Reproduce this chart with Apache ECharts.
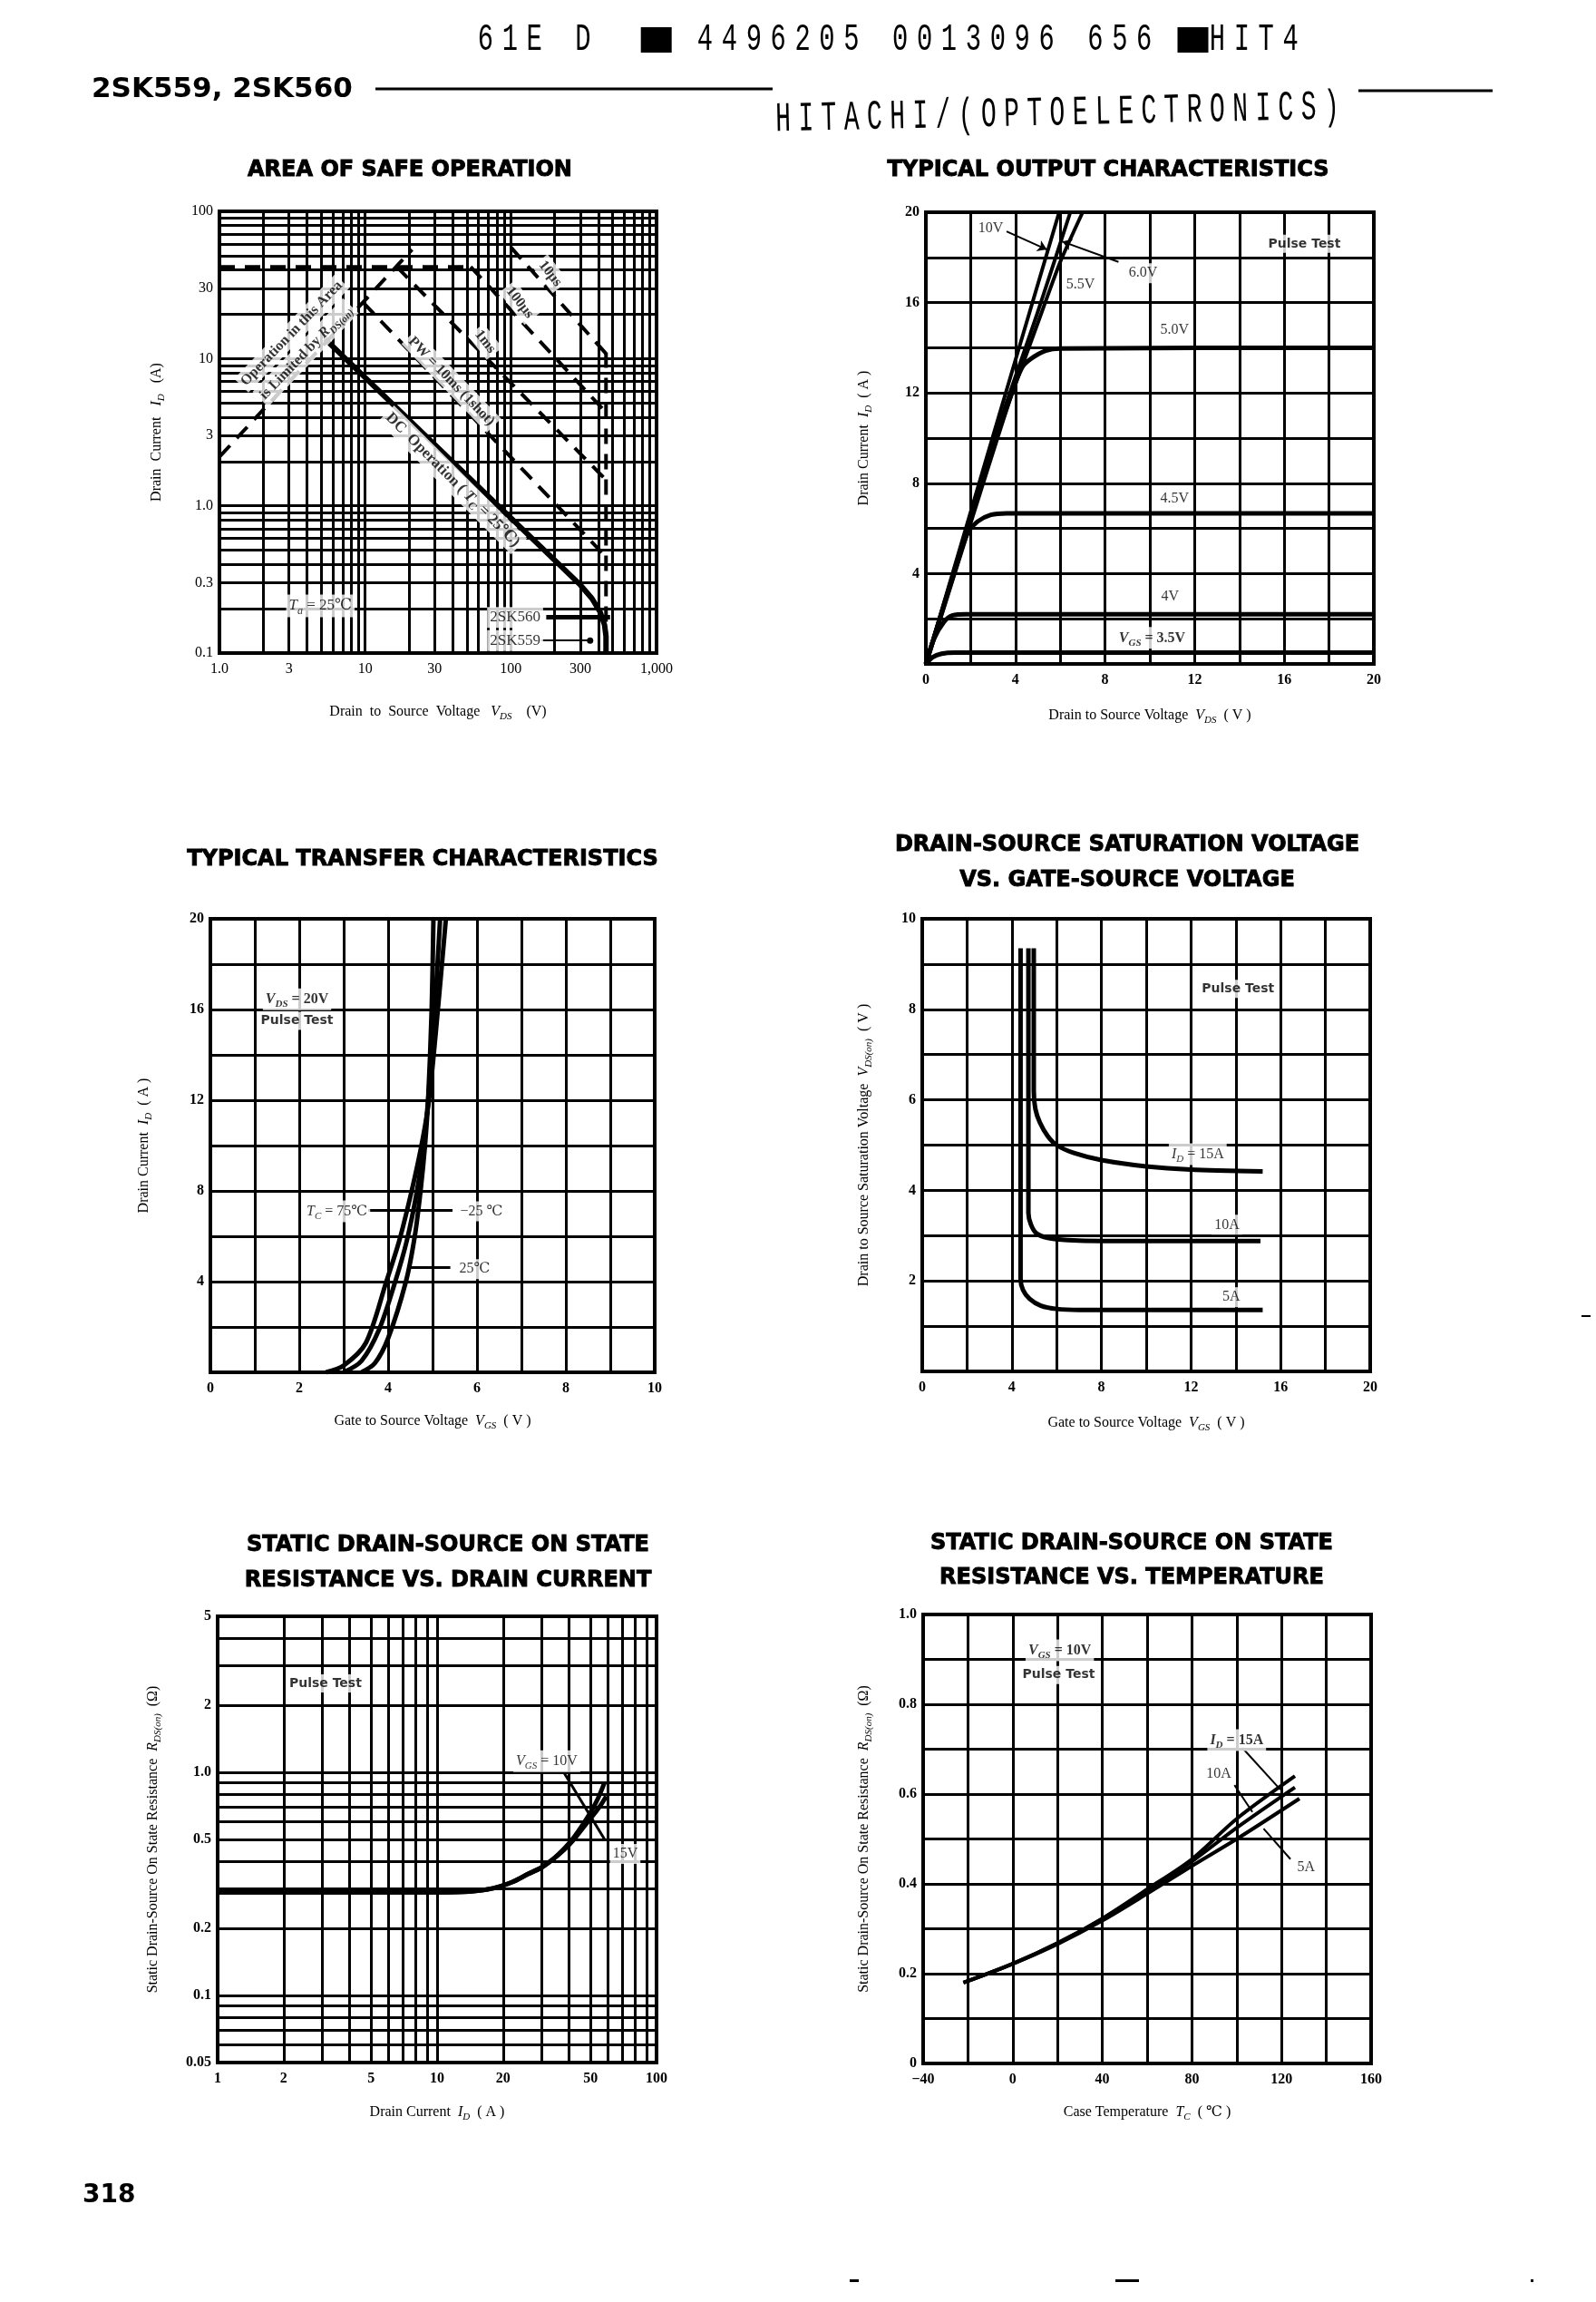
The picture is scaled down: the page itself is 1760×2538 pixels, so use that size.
<!DOCTYPE html>
<html><head><meta charset="utf-8">
<script src="https://cdn.jsdelivr.net/npm/echarts@6/dist/echarts.min.js"></script>
<style>html,body{margin:0;padding:0;background:#fff;overflow:hidden}#c{width:1760px;height:2538px}</style>
</head><body><div id="c"></div>
<script>
// ================= DATA =================
// Chart 1: Area of safe operation  [V_DS (V), I_D (A)]
const soaDC       = [[5.3,13.6],[300,0.29],[360,0.235],[410,0.19],[440,0.155],[450,0.13],[450,0.1]];
const soaRdsLimit = [[1,2.15],[21,55]];
const soaPulseMax = [[1,42],[53,42]];
const soa10ms     = [[9.7,24],[450,0.45]];
const soa1ms      = [[16.5,42],[450,1.5]];
const soa100us    = [[53,42],[450,4.3]];
const soa10us     = [[100,57],[450,10.8]];
const soaVmax     = [[450,11],[450,0.1]];
const soaXTicks = [1,3,10,30,100,300,1000];
const soaXTickText = ['1.0','3','10','30','100','300','1,000'];
const soaYTicks = [0.1,0.3,1,3,10,30,100];
const soaYTickText = ['0.1','0.3','1.0','3','10','30','100'];
const soaXGrid = [2,3,4,5,6,7,8,9,10,20,30,40,50,60,70,80,90,100,200,300,400,500,600,700,800,900];
const soaYGrid = [0.2,0.3,0.4,0.5,0.6,0.7,0.8,0.9,1,2,3,4,5,6,7,8,9,10,20,30,40,50,60,70,80,90];

// Chart 2: Typical output characteristics [V_DS (V), I_D (A)]
const outVgs10 = [[0,0],[1,3.36],[3,10.1],[5.95,20]];
const outVgs6  = [[0,0],[1,3.3],[3,9.8],[5,15.6],[6.45,20]];
const outVgs55 = [[0,0],[1,3.25],[3,9.6],[5,15.1],[6,17.8],[7,20]];
const outVgs5  = [[0,0],[2,6.3],[3.8,11.9],[4.28,13.1],[4.68,13.5],[5.35,13.87],[6,13.97],[20,14.0]];
const outVgs45 = [[0,0],[1.6,5.1],[1.9,5.85],[2.3,6.3],[2.9,6.6],[3.6,6.67],[20,6.67]];
const outVgs4  = [[0,0],[0.36,1.1],[0.8,1.85],[1.2,2.15],[1.8,2.2],[20,2.2]];
const outVgs35 = [[0,0],[0.3,0.3],[0.7,0.45],[1.3,0.5],[20,0.5]];

// Chart 3: Typical transfer characteristics [V_GS (V), I_D (A)]
const trTc75  = [[2.6,0],[3.0,0.3],[3.5,1.3],[3.96,4],[4.25,5.8],[4.53,8],[4.75,10],[4.92,12],[5.12,16],[5.3,20]];
const trTc25  = [[3.0,0],[3.4,0.5],[3.8,1.9],[4.16,4],[4.42,5.8],[4.65,8],[4.8,10],[4.9,12],[5.05,16],[5.17,20]];
const trTcM25 = [[3.4,0],[3.7,0.4],[4.0,1.5],[4.4,4],[4.6,6],[4.73,8],[4.83,10],[4.9,12],[4.98,16],[5.02,20]];

// Chart 4: Drain-source saturation voltage [V_GS (V), V_DS(on) (V)]
const sat15 = [[4.98,9.35],[4.98,6.2],[5.05,5.8],[5.25,5.5],[5.6,5.2],[6.0,5.0],[6.8,4.82],[8,4.67],[10,4.53],[12,4.46],[15.2,4.42]];
const sat10 = [[4.74,9.35],[4.74,3.5],[4.85,3.25],[5.1,3.05],[5.6,2.95],[6.5,2.9],[8,2.88],[15.1,2.88]];
const sat5  = [[4.39,9.35],[4.39,2.05],[4.5,1.8],[4.8,1.6],[5.3,1.45],[6,1.38],[7,1.36],[15.2,1.36]];

// Chart 5: R_DS(on) vs drain current [I_D (A), R (ohm)]
const rdsVgs10 = [[1,0.29],[10,0.29],[14,0.292],[18,0.302],[22,0.322],[26,0.35],[30,0.375],[34,0.41],[38,0.455],[42,0.51],[46,0.58],[50,0.66],[54,0.76],[58,0.9]];
const rdsVgs15 = [[1,0.29],[10,0.29],[14,0.292],[18,0.302],[22,0.322],[26,0.35],[30,0.375],[34,0.41],[38,0.45],[42,0.5],[46,0.56],[50,0.62],[55,0.7],[59,0.78]];
const rdsXTicks = [1,2,5,10,20,50,100];
const rdsXTickText = ['1','2','5','10','20','50','100'];
const rdsYTicks = [0.05,0.1,0.2,0.5,1,2,5];
const rdsYTickText = ['0.05','0.1','0.2','0.5','1.0','2','5'];
const rdsXGrid = [2,3,4,5,6,7,8,9,10,20,30,40,50,60,70,80,90];
const rdsYGrid = [0.06,0.07,0.08,0.09,0.1,0.2,0.3,0.4,0.5,0.6,0.7,0.8,0.9,1,2,3,4];

// Chart 6: R_DS(on) vs case temperature [Tc (C), R (ohm)]
const tcId15 = [[-22,0.18],[0,0.222],[20,0.268],[40,0.323],[60,0.388],[80,0.455],[100,0.545],[126,0.64]];
const tcId10 = [[-22,0.18],[0,0.222],[20,0.268],[40,0.322],[60,0.385],[80,0.45],[100,0.525],[126,0.615]];
const tcId5  = [[-22,0.18],[0,0.222],[20,0.266],[40,0.318],[60,0.378],[80,0.44],[100,0.5],[128,0.59]];

// ================= STYLE / LAYOUT =================
const SERIF = "'Liberation Serif','DejaVu Serif',serif";
const SANS  = "'DejaVu Sans','Liberation Sans',sans-serif";
const MONO  = "'Liberation Mono','DejaVu Sans Mono',monospace";

const GRIDS = [
  {left:242, top:233, width:482, height:487},
  {left:1021, top:234, width:494, height:498},
  {left:232, top:1013, width:490, height:500},
  {left:1017, top:1013, width:494, height:499},
  {left:240, top:1782, width:484, height:492},
  {left:1018, top:1780, width:494, height:495}
];

function rich(fs, fw) {
  return {
    i: {fontFamily:SERIF, fontStyle:'italic', fontWeight:fw, fontSize:fs, color:'#000', lineHeight:fs+6},
    s: {fontFamily:SERIF, fontStyle:'italic', fontWeight:fw, fontSize:Math.round(fs*0.68), color:'#000',
        lineHeight:Math.round(fs*0.68), verticalAlign:'bottom'}
  };
}
function nameStyle(fs) {
  return {color:'#000', fontFamily:SERIF, fontSize:fs, lineHeight:fs+6, rich:rich(fs,'normal')};
}
function linAxis(gi, pos, min, max, step, showFn, name, gap, fs) {
  return {
    type:'value', gridIndex:gi, position:pos, min:min, max:max, interval:step,
    axisLine:{show:false}, axisTick:{show:false},
    splitLine:{show:true, showMinLine:true, showMaxLine:true, lineStyle:{color:'#000', width:3}},
    axisLabel:{show:true, color:'#000', fontFamily:SERIF, fontSize:16, fontWeight:'bold',
      margin: pos==='bottom'?10:7, showMinLabel:true, showMaxLabel:true, hideOverlap:false,
      formatter: v => showFn(v)},
    name:name, nameLocation:'middle', nameGap:gap, nameTextStyle:nameStyle(fs||16), nameMoveOverlap:false
  };
}
function labelFor(ticks, texts, v) {
  let best = 0, bd = Infinity;
  ticks.forEach((t,i) => { const d = Math.abs(Math.log10(t) - Math.log10(v)); if (d < bd) { bd = d; best = i; } });
  return texts[best];
}
function logAxis(gi, pos, min, max, ticks, texts, name, gap, fw, fs) {
  return {
    type:'log', logBase:10, gridIndex:gi, position:pos, min:min, max:max,
    axisLine:{show:false}, axisTick:{show:false}, splitLine:{show:false},
    minorTick:{show:false}, minorSplitLine:{show:false},
    axisLabel:{show:true, customValues:ticks, formatter: v => labelFor(ticks, texts, v),
      color:'#000', fontFamily:SERIF, fontSize:16, fontWeight:fw,
      margin: pos==='bottom'?10:7, showMinLabel:true, showMaxLabel:true, hideOverlap:false},
    name:name, nameLocation:'middle', nameGap:gap, nameTextStyle:nameStyle(fs||16), nameMoveOverlap:false
  };
}
function gridLines(gi, xs, ys, anchor) {
  return {
    type:'line', xAxisIndex:gi, yAxisIndex:gi, data:[anchor], symbol:'none', silent:true, z:1,
    lineStyle:{opacity:0},
    markLine:{silent:true, animation:false, symbol:['none','none'], label:{show:false},
      lineStyle:{color:'#000', width:3, type:'solid'}, emphasis:{disabled:true},
      data: xs.map(v => ({xAxis:v})).concat(ys.map(v => ({yAxis:v})))}
  };
}
function curve(gi, data, w, dash, smooth) {
  return {
    type:'line', xAxisIndex:gi, yAxisIndex:gi, data:data, symbol:'none', showSymbol:false,
    silent:true, z:3, smooth: smooth || false,
    lineStyle:{color:'#000', width:w, type: dash ? [17,11] : 'solid', cap:'butt', join:'round'}
  };
}
function leaders(gi, lines) {
  return {
    type:'line', xAxisIndex:gi, yAxisIndex:gi, data:[lines[0][0]], symbol:'none', silent:true, z:4,
    lineStyle:{opacity:0},
    markLine:{silent:true, animation:false, label:{show:false}, symbol:['none','none'],
      emphasis:{disabled:true},
      data: lines.map(l => [
        {coord:l[0], symbol:'none', lineStyle:{color:'#000', width:l[3]||2, type:'solid'}},
        {coord:l[1], symbol:l[2]||'none', symbolSize:l[2]==='circle'?7:10, itemStyle:{color:'#000'},
         lineStyle:{color:'#000', width:l[3]||2, type:'solid'}}
      ])}
  };
}
function notes(gi, items) {
  return {
    type:'scatter', xAxisIndex:gi, yAxisIndex:gi, silent:true, z:6, symbolSize:1,
    itemStyle:{color:'rgba(0,0,0,0)'},
    data: items.map(a => {
      const fs = a.fs || 16, fw = a.fw || 'normal';
      return {value:[a.x, a.y], label:{
        show:true, position:'inside', formatter: () => a.t, rotate:a.r || 0,
        fontFamily:a.ff || SERIF, fontSize:fs, fontWeight:fw, color:'#000',
        backgroundColor: a.nobg ? 'transparent' : '#fff', padding:[1,3],
        lineHeight:fs+4, rich:rich(fs, fw)}};
    })
  };
}

// ================= AXES =================
const every = (step, skipZero) => v => {
  const k = Math.round(v*1000)/1000;
  if (skipZero && k === 0) return '';
  return (Math.abs(Math.round(k/step) - k/step) < 1e-6) ? String(k) : '';
};

const xAxes = [
  logAxis(0,'bottom',1,1000,soaXTicks,soaXTickText,'Drain  to  Source  Voltage   {i|V}{s|DS}    (V)',54,'normal',16),
  linAxis(1,'bottom',0,20,2,every(4,false),'Drain to Source Voltage  {i|V}{s|DS}  ( V )',46),
  linAxis(2,'bottom',0,10,1,every(2,false),'Gate to Source Voltage  {i|V}{s|GS}  ( V )',43),
  linAxis(3,'bottom',0,20,2,every(4,false),'Gate to Source Voltage  {i|V}{s|GS}  ( V )',46),
  logAxis(4,'bottom',1,100,rdsXTicks,rdsXTickText,'Drain Current  {i|I}{s|D}  ( A )',44,'bold',16),
  linAxis(5,'bottom',-40,160,20,v => { const k=Math.round(v); return (k%40===0) ? (k<0 ? '\u2212'+Math.abs(k) : String(k)) : ''; },
          'Case Temperature  {i|T}{s|C}  ( \u2103 )',43)
];
const yAxes = [
  logAxis(0,'left',0.1,100,soaYTicks,soaYTickText,'Drain  Current   {i|I}{s|D}   (A)',58,'normal',16),
  linAxis(1,'left',0,20,2,every(4,true),'Drain Current  {i|I}{s|D}  ( A )',57),
  linAxis(2,'left',0,20,2,every(4,true),'Drain Current  {i|I}{s|D}  ( A )',62),
  linAxis(3,'left',0,10,1,every(2,true),'Drain to Source Saturation Voltage  {i|V}{s|DS(on)}  ( V )',53),
  logAxis(4,'left',0.05,5,rdsYTicks,rdsYTickText,'Static Drain-Source On State Resistance  {i|R}{s|DS(on)}  (\u03a9)',60,'bold',16),
  linAxis(5,'left',0,1.0,0.1,v => { const k=Math.round(v*10); return (k%2===0) ? (k===0?'0':(k/10).toFixed(1)) : ''; },
          'Static Drain-Source On State Resistance  {i|R}{s|DS(on)}  (\u03a9)',54)
];

// ================= SERIES =================
const series = [
  // chart 1
  gridLines(0, soaXGrid, soaYGrid, [1,1]),
  curve(0, soaDC, 6, false),
  curve(0, soaRdsLimit, 4, true),
  curve(0, soaPulseMax, 4, true),
  curve(0, soa10ms, 4, true),
  curve(0, soa1ms, 4, true),
  curve(0, soa100us, 4, true),
  curve(0, soa10us, 4, true),
  curve(0, soaVmax, 4, true),
  leaders(0, [[[175,0.1745],[480,0.1745],'none',5],[[162,0.1217],[350,0.1217],'circle',2]]),
  notes(0, [
    {x:3.13, y:14.8, t:'Operation in this Area', r:46, fw:'bold', fs:16},
    {x:3.9, y:11.0, t:'is Limited by {i|R}{s|DS(on)}', r:46, fw:'bold', fs:16},
    {x:39, y:7.0, t:'PW = 10ms (1shot)', r:-46, fw:'bold', fs:16},
    {x:39.8, y:1.5, t:'DC  Operation ( {i|T}{s|C} = 25\u2103)', r:-45, fw:'bold', fs:17},
    {x:66.6, y:13.0, t:'1ms', r:-52, fw:'bold', fs:16},
    {x:115, y:24, t:'100\u03bcs', r:-52, fw:'bold', fs:16},
    {x:186, y:37.7, t:'10\u03bcs', r:-52, fw:'bold', fs:16},
    {x:4.93, y:0.209, t:'{i|T}{s|a} = 25\u2103', fs:17},
    {x:107, y:0.1745, t:'2SK560', fs:17},
    {x:107, y:0.1217, t:'2SK559', fs:17}
  ]),
  // chart 2
  curve(1, outVgs35, 5, false, 0.3),
  curve(1, outVgs4, 5, false, 0.3),
  curve(1, outVgs45, 5, false, 0.3),
  curve(1, outVgs5, 5, false, 0.3),
  curve(1, outVgs55, 4, false, 0.2),
  curve(1, outVgs6, 4, false, 0.2),
  curve(1, outVgs10, 4, false),
  leaders(1, [[[3.6,19.15],[5.4,18.35],'arrow',2],[[8.6,17.8],[6.1,18.7],'arrow',2]]),
  notes(1, [
    {x:16.9, y:18.6, t:'Pulse Test', ff:SANS, fw:'bold', fs:14},
    {x:2.9, y:19.3, t:'10V'},
    {x:9.7, y:17.3, t:'6.0V'},
    {x:6.9, y:16.8, t:'5.5V'},
    {x:11.1, y:14.8, t:'5.0V'},
    {x:11.1, y:7.3, t:'4.5V'},
    {x:10.9, y:2.96, t:'4V'},
    {x:10.1, y:1.15, t:'{i|V}{s|GS} = 3.5V', fw:'bold'}
  ]),
  // chart 3
  curve(2, trTc75, 5, false, 0.3),
  curve(2, trTc25, 5, false, 0.3),
  curve(2, trTcM25, 5, false, 0.3),
  leaders(2, [[[3.55,7.15],[5.45,7.15],'none',3],[[5.4,4.65],[4.45,4.65],'none',3]]),
  notes(2, [
    {x:1.95, y:16.45, t:'{i|V}{s|DS} = 20V', fw:'bold'},
    {x:1.95, y:15.5, t:'Pulse Test', ff:SANS, fw:'bold', fs:14},
    {x:2.85, y:7.1, t:'{i|T}{s|C} = 75\u2103'},
    {x:6.1, y:7.1, t:'\u221225 \u2103'},
    {x:5.95, y:4.55, t:'25\u2103'}
  ]),
  // chart 4
  curve(3, sat15, 5, false, 0.25),
  curve(3, sat10, 5, false, 0.25),
  curve(3, sat5, 5, false, 0.25),
  notes(3, [
    {x:14.1, y:8.45, t:'Pulse Test', ff:SANS, fw:'bold', fs:14},
    {x:12.3, y:4.8, t:'{i|I}{s|D} = 15A'},
    {x:13.6, y:3.24, t:'10A'},
    {x:13.8, y:1.64, t:'5A'}
  ]),
  // chart 5
  gridLines(4, rdsXGrid, rdsYGrid, [1,0.3]),
  curve(4, rdsVgs10, 5, false, 0.3),
  curve(4, rdsVgs15, 5, false, 0.3),
  leaders(4, [[[38,0.99],[58,0.5],'none',3]]),
  notes(4, [
    {x:3.1, y:2.5, t:'Pulse Test', ff:SANS, fw:'bold', fs:14},
    {x:31.6, y:1.12, t:'{i|V}{s|GS} = 10V'},
    {x:72, y:0.43, t:'15V'}
  ]),
  // chart 6
  curve(5, tcId15, 4, false, 0.3),
  curve(5, tcId10, 4, false, 0.3),
  curve(5, tcId5, 4, false, 0.3),
  leaders(5, [[[102.5,0.703],[119.5,0.61],'none',2],[[99,0.62],[107,0.56],'none',2],[[124,0.455],[112,0.523],'none',2]]),
  notes(5, [
    {x:21, y:0.92, t:'{i|V}{s|GS} = 10V', fw:'bold'},
    {x:20.5, y:0.865, t:'Pulse Test', ff:SANS, fw:'bold', fs:14},
    {x:100, y:0.72, t:'{i|I}{s|D} = 15A', fw:'bold'},
    {x:92, y:0.645, t:'10A'},
    {x:131, y:0.437, t:'5A'}
  ])
];

// ================= PAGE TEXT =================
const titles = [
  ['AREA OF SAFE OPERATION', 452, 188],
  ['TYPICAL OUTPUT CHARACTERISTICS', 1222, 188],
  ['TYPICAL TRANSFER CHARACTERISTICS', 466, 948],
  ['DRAIN-SOURCE SATURATION VOLTAGE', 1243, 932],
  ['VS. GATE-SOURCE VOLTAGE', 1243, 971],
  ['STATIC DRAIN-SOURCE ON STATE', 494, 1704],
  ['RESISTANCE VS. DRAIN CURRENT', 494, 1743],
  ['STATIC DRAIN-SOURCE ON STATE', 1248, 1702],
  ['RESISTANCE VS. TEMPERATURE', 1248, 1740]
];
const headerCode = '61E D  \u25a0 4496205 0013096 656 \u25a0HIT4';
const headerMaker = 'HITACHI/(OPTOELECTRONICS)';

function txt(t, x, y, font, size, weight, align, extra) {
  return Object.assign({type:'text', x:x, y:y, z:100, silent:true,
    style:{text:t, fontFamily:font, fontSize:size, fontWeight:weight||'normal', fill:'#000',
      align:align||'left', verticalAlign:'middle'}}, extra || {});
}
const graphic = [];
titles.forEach(t => {
  const g = txt(t[0], t[1], t[2], SANS, 24, 'bold', 'center');
  g.style.stroke = '#000'; g.style.lineWidth = 0.9;
  graphic.push(g);
});
// dot-matrix style header: one narrow glyph per fixed cell
Array.from(headerCode).forEach((ch, i) => {
  const cx = 522 + i*26.9 + 13.4;
  if (ch === ' ') return;
  if (ch === '\u25a0') {
    graphic.push({type:'rect', z:100, silent:true, shape:{x:cx-17, y:30, width:34, height:28}, style:{fill:'#000'}});
    return;
  }
  graphic.push(txt(ch, cx, 44, MONO, 40, 'normal', 'center', {scaleX:0.72, scaleY:1.08}));
});
Array.from(headerMaker).forEach((ch, i) => {
  const cx = 851 + i*25.2 + 12.6;
  graphic.push(txt(ch, cx, 132 - i*0.56, MONO, 40, 'normal', 'center', {scaleX:0.7, scaleY:1.15, rotation:0.022}));
});
graphic.push(txt('2SK559, 2SK560', 101, 99, SANS, 31, 'bold'));
graphic.push({type:'line', z:100, silent:true, shape:{x1:414, y1:98, x2:852, y2:98}, style:{stroke:'#000', lineWidth:3}});
graphic.push({type:'line', z:100, silent:true, shape:{x1:1498, y1:100, x2:1646, y2:100}, style:{stroke:'#000', lineWidth:3}});
graphic.push(txt('318', 91, 2421, SANS, 28, 'bold'));
graphic.push({type:'rect', z:100, silent:true, shape:{x:937, y:2513, width:10, height:3}, style:{fill:'#000'}});
graphic.push({type:'rect', z:100, silent:true, shape:{x:1230, y:2513, width:26, height:3}, style:{fill:'#000'}});
graphic.push({type:'rect', z:100, silent:true, shape:{x:1688, y:2513, width:3, height:3}, style:{fill:'#000'}});
graphic.push({type:'rect', z:100, silent:true, shape:{x:1744, y:1450, width:10, height:2}, style:{fill:'#000'}});

// ================= OPTION =================
const chart = echarts.init(document.getElementById('c'), null, {renderer:'canvas', width:1760, height:2538});
chart.setOption({
  animation:false,
  backgroundColor:'#fff',
  textStyle:{fontFamily:SERIF, color:'#000'},
  grid: GRIDS.map(g => Object.assign({show:true, borderColor:'#000', borderWidth:4,
    backgroundColor:'transparent', containLabel:false, outerBoundsMode:'none'}, g)),
  xAxis: xAxes,
  yAxis: yAxes,
  series: series,
  graphic: graphic
});
</script>
</body></html>
